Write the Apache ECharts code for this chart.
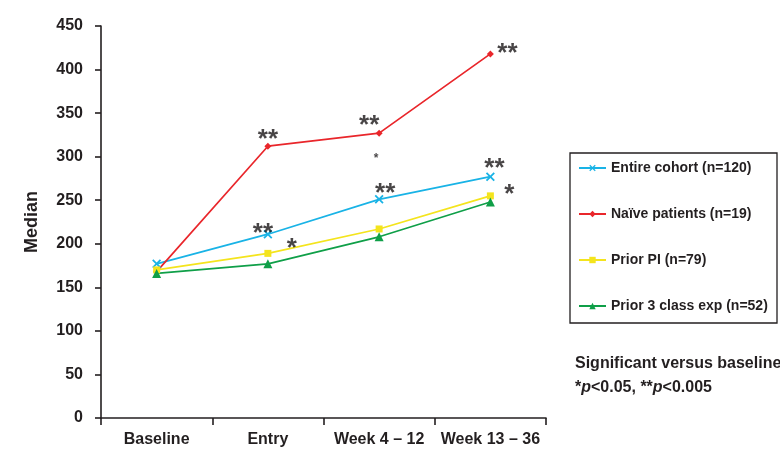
<!DOCTYPE html>
<html>
<head>
<meta charset="utf-8">
<script src="https://cdn.jsdelivr.net/npm/echarts@6/dist/echarts.min.js"></script>
<style>
  html, body { margin: 0; padding: 0; background: #fff; }
  #chart { width: 780px; height: 450px; }
</style>
</head>
<body>
<div id="chart"></div>
<script>
// ---- data ----
const categories = ['Baseline', 'Entry', 'Week 4 – 12', 'Week 13 – 36'];
const entireCohort = [177, 211, 251, 277];
const naivePatients = [168, 312, 327, 418];
const priorPI = [170, 189, 217, 255];
const prior3Class = [166, 177, 208, 248];
const yTickLabels = ['0', '50', '100', '150', '200', '250', '300', '350', '400', '450'];
const seriesNames = ['Entire cohort (n=120)', 'Naïve patients (n=19)', 'Prior PI (n=79)', 'Prior 3 class exp (n=52)'];

// significance marks versus baseline: [series, category index, mark]
const sigMarks = [
  ['naive', 1, '**'], ['naive', 2, '**'], ['naive', 2, '*'], ['naive', 3, '**'],
  ['entire', 1, '**'], ['entire', 2, '**'], ['entire', 3, '**'],
  ['priorPI', 1, '*'], ['priorPI', 3, '*']
];
const footnoteTitle = 'Significant versus baseline';

// ---- presentation ----
const seriesValues = { entire: entireCohort, naive: naivePatients, priorPI: priorPI, prior3: prior3Class };
// label offsets (px) and font sizes for each significance mark, same order as sigMarks
const sigLayout = [
  [0, -6, 26], [-10, -7, 26], [-3, 26, 12], [17, 0, 26],
  [-5, 0, 26], [6, -6, 26], [4, -8, 26],
  [24, -5, 26], [19, -1, 26]
];

const INK = '#231f20';
const SANS = "'Liberation Sans', Arial, sans-serif";
const crossPath = 'path://M0,1.4L1.4,0L5,3.6L8.6,0L10,1.4L6.4,5L10,8.6L8.6,10L5,6.4L1.4,10L0,8.6L3.6,5Z';

function lineSeries(name, data, color, symbol, size) {
  return {
    name: name,
    type: 'line',
    data: data,
    symbol: symbol,
    symbolSize: size,
    showSymbol: true,
    lineStyle: { color: color, width: 1.7 },
    itemStyle: { color: color },
    emphasis: { disabled: true },
    z: 3
  };
}

const sigData = sigMarks.map(function (m, i) {
  const lay = sigLayout[i];
  return {
    value: [m[1], seriesValues[m[0]][m[1]]],
    label: {
      show: true,
      position: 'inside',
      formatter: m[2],
      offset: [lay[0], lay[1]],
      fontSize: lay[2],
      fontWeight: 'bold',
      fontFamily: SANS,
      color: '#1a1718'
    }
  };
});

const chart = echarts.init(document.getElementById('chart'), null, { renderer: 'canvas' });
chart.setOption({
  animation: false,
  backgroundColor: '#ffffff',
  grid: { left: 101, right: 234, top: 26, bottom: 32, containLabel: false },
  xAxis: {
    type: 'category',
    data: categories,
    boundaryGap: true,
    axisLine: { lineStyle: { color: INK, width: 1.6 } },
    axisTick: { show: true, length: 7, inside: false, lineStyle: { color: INK, width: 1.6 } },
    axisLabel: { interval: 0, color: INK, fontFamily: SANS, fontWeight: 'bold', fontSize: 16, margin: 14 }
  },
  yAxis: {
    type: 'value',
    min: 0,
    max: 450,
    interval: 50,
    name: 'Median',
    nameLocation: 'middle',
    nameGap: 60,
    nameRotate: 90,
    nameTextStyle: { color: INK, fontFamily: SANS, fontWeight: 'bold', fontSize: 18 },
    axisLine: { show: true, lineStyle: { color: INK, width: 1.6 } },
    axisTick: { show: true, length: 6, lineStyle: { color: INK, width: 1.6 } },
    splitLine: { show: false },
    axisLabel: {
      color: INK, fontFamily: SANS, fontWeight: 'bold', fontSize: 16, margin: 18,
      formatter: function (v) { return yTickLabels[Math.round(v / 50)]; }
    }
  },
  legend: {
    data: seriesNames,
    orient: 'vertical',
    left: 578,
    top: 159,
    padding: 0,
    itemWidth: 27,
    itemHeight: 8,
    itemGap: 28,
    selectedMode: false,
    textStyle: { color: INK, fontFamily: SANS, fontWeight: 'bold', fontSize: 14, lineHeight: 18 }
  },
  graphic: [
    {
      type: 'rect',
      shape: { x: 570, y: 153, width: 207, height: 170 },
      style: { fill: 'none', stroke: INK, lineWidth: 1.3 },
      silent: true
    },
    {
      type: 'text',
      left: 575,
      top: 356,
      style: {
        text: footnoteTitle,
        fill: INK,
        font: 'bold 16px ' + SANS
      }
    },
    {
      type: 'text',
      left: 575,
      top: 380,
      style: {
        text: '*{i|p}<0.05, **{i|p}<0.005',
        fill: INK,
        font: 'bold 16px ' + SANS,
        rich: {
          i: { fontStyle: 'italic', fontWeight: 'bold', fontSize: 16, fontFamily: SANS, color: INK }
        }
      }
    }
  ],
  series: [
    lineSeries(seriesNames[0], entireCohort, '#19b3e6', crossPath, 9),
    lineSeries(seriesNames[1], naivePatients, '#e9262b', 'diamond', 7),
    lineSeries(seriesNames[2], priorPI, '#f4e41d', 'rect', 7),
    lineSeries(seriesNames[3], prior3Class, '#0f9f48', 'triangle', 9),
    {
      name: 'significance',
      type: 'scatter',
      data: sigData,
      symbolSize: 0,
      silent: true,
      z: 5
    }
  ]
});
</script>
</body>
</html>
